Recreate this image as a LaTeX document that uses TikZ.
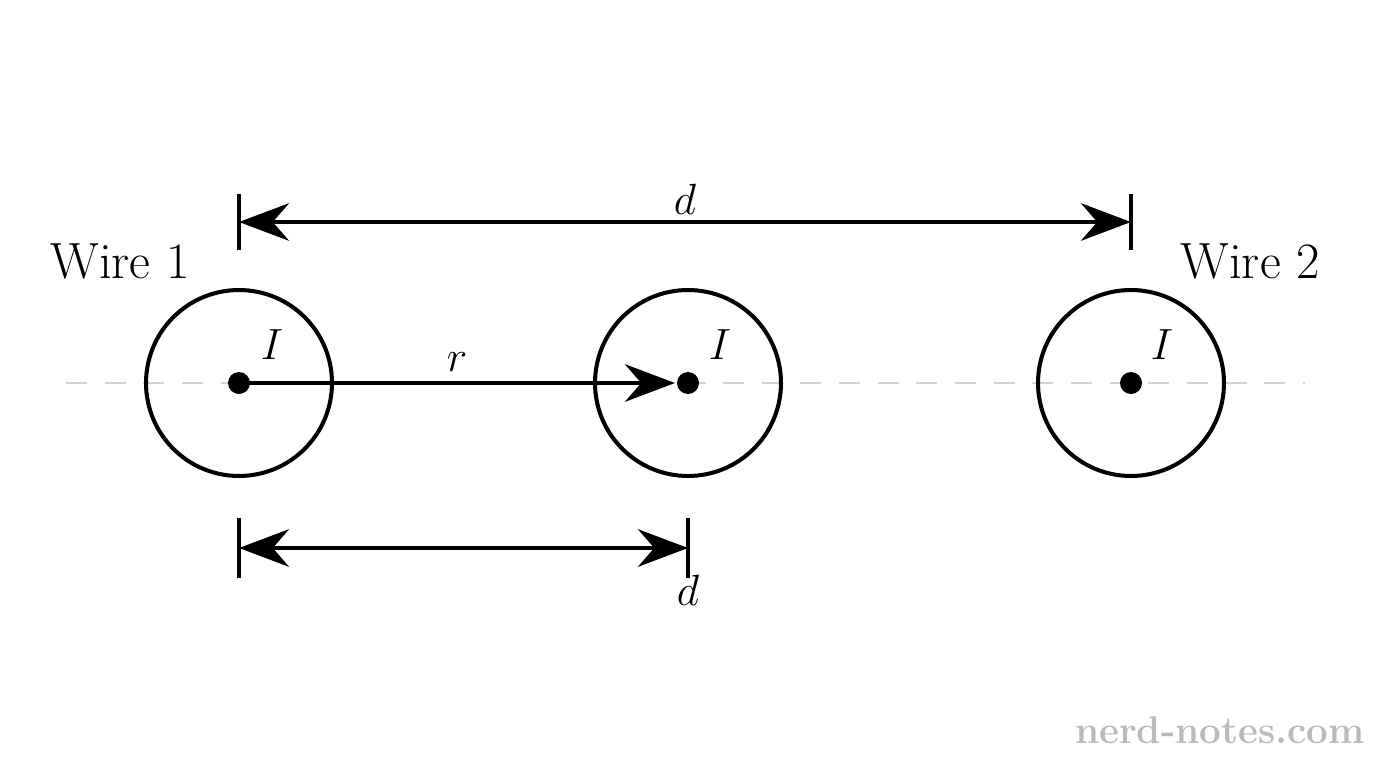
\documentclass[tikz,border=0pt]{standalone}
\usetikzlibrary{arrows.meta}
\begin{document}
\begin{tikzpicture}[x=0.02cm, y=-0.02cm, line width=2.3pt,
  dim/.style={{Stealth[length=1cm,width=0.75cm]}-{Stealth[length=1cm,width=0.75cm]}},
  wire/.style={circle, draw, minimum size=3.72cm, inner sep=0pt},
  dot/.style={circle, fill, minimum size=0.44cm, inner sep=0pt},
  lbl/.style={font=\fontsize{29}{34}\selectfont}]

\useasboundingbox (0,0) rectangle (1376,768);

\draw[gray!35, dashed, dash pattern=on 12pt off 10pt, line width=1.2pt] (66,383) -- (1305,383); %% axis

% wires
\node[wire] (w1) at (239,383) {};
\node[wire] (wm) at (688,383) {};
\node[wire] (w2) at (1131,383) {};
\node[dot] (c1) at (239,383) {};
\node[dot] (cm) at (688,383) {};
\node[dot] (c2) at (1131,383) {};

\node[lbl] (i1) at (272,345) {$I$};
\node[lbl] (im) at (720,345) {$I$};
\node[lbl] (i2) at (1162,345) {$I$};
\node[lbl] (n1) at (120,262) {Wire 1};
\node[lbl] (n2) at (1250,262) {Wire 2};

% r
\draw[-{Stealth[length=1cm,width=0.75cm]}] (c1.center) --
  node[lbl, above=2pt]{$r$} (cm.west);

% top dimension
\coordinate (ta) at (239,222);
\coordinate (tb) at (1131,222);
\draw (239,194) -- (239,250);
\draw (1131,194) -- (1131,250);
\draw[dim] (ta) -- node[lbl, above=0pt]{$d$} (tb);

% bottom dimension
\coordinate (ba) at (239,548);
\coordinate (bb) at (688,548);
\draw (239,518) -- (239,578);
\draw (688,518) -- (688,578);
\draw[dim] (ba) -- (bb);
\node[lbl] (bd) at (688,590) {$d$};

\node[gray!55, font=\fontsize{22}{26}\selectfont\bfseries] (wm) at (1220,730) {nerd-notes.com};
\end{tikzpicture}
\end{document}
